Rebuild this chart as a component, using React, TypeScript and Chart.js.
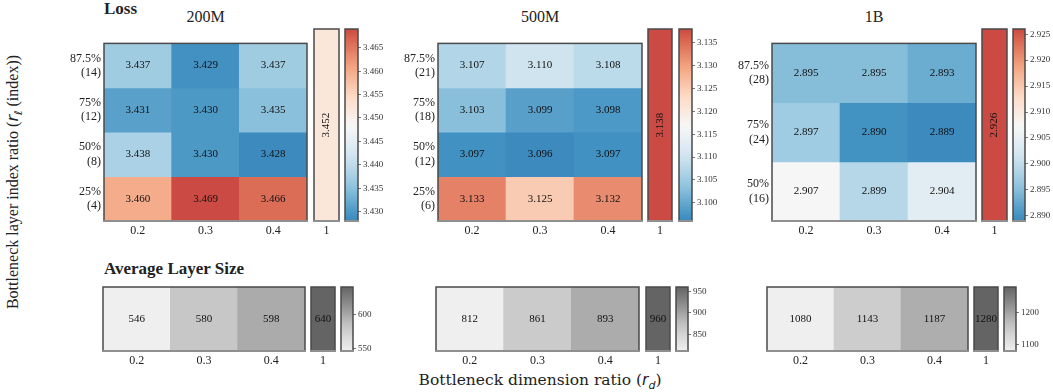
import React, { useEffect, useRef } from 'react';
import { Chart, registerables } from 'chart.js';

Chart.register(...registerables);

// ---------------- data ----------------
const rdLabels = ['0.2', '0.3', '0.4'];
const fullLabel = ['1'];

const rows200M = [['87.5%', '(14)'], ['75%', '(12)'], ['50%', '(8)'], ['25%', '(4)']];
const loss200M = [
  [3.437, 3.429, 3.437],
  [3.431, 3.430, 3.435],
  [3.438, 3.430, 3.428],
  [3.460, 3.469, 3.466],
];
const loss200MFull = 3.452;
const lossTicks200M = [3.430, 3.435, 3.440, 3.445, 3.450, 3.455, 3.460, 3.465];

const rows500M = [['87.5%', '(21)'], ['75%', '(18)'], ['50%', '(12)'], ['25%', '(6)']];
const loss500M = [
  [3.107, 3.110, 3.108],
  [3.103, 3.099, 3.098],
  [3.097, 3.096, 3.097],
  [3.133, 3.125, 3.132],
];
const loss500MFull = 3.138;
const lossTicks500M = [3.100, 3.105, 3.110, 3.115, 3.120, 3.125, 3.130, 3.135];

const rows1B = [['87.5%', '(28)'], ['75%', '(24)'], ['50%', '(16)']];
const loss1B = [
  [2.895, 2.895, 2.893],
  [2.897, 2.890, 2.889],
  [2.907, 2.899, 2.904],
];
const loss1BFull = 2.926;
const lossTicks1B = [2.890, 2.895, 2.900, 2.905, 2.910, 2.915, 2.920, 2.925];

const size200M = [546, 580, 598];
const size200MFull = 640;
const sizeTicks200M = [550, 600];

const size500M = [812, 861, 893];
const size500MFull = 960;
const sizeTicks500M = [850, 900, 950];

const size1B = [1080, 1143, 1187];
const size1BFull = 1280;
const sizeTicks1B = [1100, 1200];

const modelNames = ['200M', '500M', '1B'];

// ---------------- style helpers ----------------
const SERIF = "'Liberation Serif', 'Times New Roman', serif";
Chart.defaults.font.family = SERIF;
const RDBU_R = ['#053061', '#2166ac', '#4393c3', '#92c5de', '#d1e5f0', '#f7f7f7', '#fddbc7', '#f4a582', '#d6604d', '#b2182b', '#67001f'];
const GREYS = ['#ffffff', '#f0f0f0', '#d9d9d9', '#bdbdbd', '#969696', '#737373', '#525252', '#252525', '#000000'];

function hexToRgb(h: string) {
  const n = parseInt(h.slice(1), 16);
  return [(n >> 16) & 255, (n >> 8) & 255, n & 255];
}
function sampleStops(stops: string[], p: number) {
  const c = Math.min(1, Math.max(0, p)) * (stops.length - 1);
  const i = Math.min(stops.length - 2, Math.floor(c));
  const f = c - i;
  const a = hexToRgb(stops[i]);
  const b = hexToRgb(stops[i + 1]);
  return `rgb(${a.map((v, k) => Math.round(v + (b[k] - v) * f)).join(',')})`;
}
const lossCmap = (t: number) => sampleStops(RDBU_R, 0.18 + 0.65 * t);
const sizeCmap = (t: number) => sampleStops(GREYS, 0.13 + 0.55 * t);

type Margin = { l: number; r: number; t: number; b: number };
type Area = { x0: number; y0: number; x1: number; y1: number };

const framePlugin = {
  id: 'frame',
  afterDraw(chart: any) {
    const { ctx, chartArea: a } = chart;
    ctx.save();
    ctx.strokeStyle = '#4a4a4a';
    ctx.lineWidth = 1.5;
    ctx.strokeRect(a.left, a.top, a.right - a.left, a.bottom - a.top);
    ctx.strokeStyle = '#8f8f8f';
    ctx.lineWidth = 2;
    ctx.beginPath();
    ctx.moveTo(a.left - 0.75, a.bottom);
    ctx.lineTo(a.right + 0.75, a.bottom);
    ctx.stroke();
    ctx.restore();
  },
};

function valuePlugin(decimals: number, rotate?: boolean) {
  return {
    id: 'cellValues',
    afterDatasetsDraw(chart: any) {
      const ctx = chart.ctx;
      ctx.save();
      ctx.font = `11px ${SERIF}`;
      ctx.fillStyle = '#111';
      ctx.textAlign = 'center';
      ctx.textBaseline = 'middle';
      chart.data.datasets.forEach((ds: any, di: number) => {
        chart.getDatasetMeta(di).data.forEach((el: any, i: number) => {
          const { x, y, base } = el.getProps(['x', 'y', 'base'], true);
          const cy = (y + base) / 2;
          const txt = ds.cellValues[i].toFixed(decimals);
          if (rotate) {
            ctx.save();
            ctx.translate(x, cy);
            ctx.rotate(-Math.PI / 2);
            ctx.fillText(txt, 0, 0);
            ctx.restore();
          } else {
            ctx.fillText(txt, x, cy);
          }
        });
      });
      ctx.restore();
    },
  };
}

function makeHeatmap(p: {
  xLabels: string[];
  rows: number[][];
  rowLabels?: string[][];
  cmap: (t: number) => string;
  vmin: number;
  vmax: number;
  decimals: number;
  rotate?: boolean;
}) {
  return (m: Margin): any => {
    const n = p.rows.length;
    const color = (v: number) => p.cmap((v - p.vmin) / (p.vmax - p.vmin));
    return {
      type: 'bar',
      data: {
        labels: p.xLabels,
        datasets: p.rows.map((row, r) => ({
          data: row.map(() => [n - 1 - r, n - r]),
          cellValues: row,
          backgroundColor: row.map(color),
          borderWidth: 0,
          barPercentage: 1,
          categoryPercentage: 1,
          grouped: false,
        })),
      },
      options: {
        responsive: false,
        animation: false,
        events: [],
        layout: { padding: { left: p.rowLabels ? 0 : m.l, right: m.r, top: m.t, bottom: 0 } },
        plugins: { legend: { display: false }, tooltip: { enabled: false } },
        scales: {
          x: {
            type: 'category',
            offset: true,
            grid: { display: false, drawTicks: false },
            border: { display: false },
            ticks: { font: { family: SERIF, size: 12 }, color: '#222', padding: 3, maxRotation: 0, autoSkip: false },
            afterFit: (s: any) => { s.height = m.b; },
          },
          y: p.rowLabels
            ? {
                type: 'linear',
                min: 0,
                max: n,
                grid: { display: false, drawTicks: false },
                border: { display: false },
                afterBuildTicks: (ax: any) => {
                  ax.ticks = p.rowLabels!.map((_, r) => ({ value: n - 1 - r + 0.5 }));
                },
                ticks: {
                  autoSkip: false,
                  font: { family: SERIF, size: 12 },
                  color: '#222',
                  padding: 3,
                  callback: (v: number) => p.rowLabels![n - 1 - Math.floor(v)],
                },
                afterFit: (s: any) => { s.width = m.l; },
              }
            : { type: 'linear', display: false, min: 0, max: n },
        },
      },
      plugins: [valuePlugin(p.decimals, p.rotate), framePlugin],
    };
  };
}

function makeColorbar(p: { vmin: number; vmax: number; ticks: number[]; cmap: (t: number) => string; decimals: number }) {
  return (m: Margin): any => ({
    type: 'bar',
    data: {
      labels: [''],
      datasets: [
        {
          data: [[p.vmin, p.vmax]],
          backgroundColor: (c: any) => {
            const a = c.chart.chartArea;
            if (!a) return p.cmap(0.5);
            const g = c.chart.ctx.createLinearGradient(0, a.bottom, 0, a.top);
            for (let i = 0; i <= 40; i++) g.addColorStop(i / 40, p.cmap(i / 40));
            return g;
          },
          borderWidth: 0,
          barPercentage: 1,
          categoryPercentage: 1,
        },
      ],
    },
    options: {
      responsive: false,
      animation: false,
      events: [],
      layout: { padding: { left: m.l, right: 0, top: m.t, bottom: m.b } },
      plugins: { legend: { display: false }, tooltip: { enabled: false } },
      scales: {
        x: { display: false },
        y: {
          position: 'right',
          min: p.vmin,
          max: p.vmax,
          grid: { display: true, drawOnChartArea: false, drawTicks: true, tickLength: 3, color: '#555', lineWidth: 0.8 },
          border: { display: false },
          afterBuildTicks: (ax: any) => { ax.ticks = p.ticks.map((v) => ({ value: v })); },
          ticks: {
            autoSkip: false,
            font: { family: SERIF, size: 9 },
            color: '#333',
            padding: 2,
            callback: (v: number) => v.toFixed(p.decimals),
          },
          afterFit: (s: any) => { s.width = m.r; },
        },
      },
    },
    plugins: [framePlugin],
  });
}

function ChartCanvas({ area, margin, make }: { area: Area; margin: Margin; make: (m: Margin) => any }) {
  const ref = useRef<HTMLCanvasElement | null>(null);
  const w = area.x1 - area.x0 + margin.l + margin.r;
  const h = area.y1 - area.y0 + margin.t + margin.b;
  useEffect(() => {
    const chart = new Chart(ref.current as HTMLCanvasElement, make(margin));
    return () => chart.destroy();
  }, []);
  return (
    <canvas
      ref={ref}
      width={w}
      height={h}
      style={{ position: 'absolute', left: area.x0 - margin.l, top: area.y0 - margin.t, width: w, height: h }}
    />
  );
}

// ---------------- layout ----------------
const TOP = { y0: 29, y1: 221 };
const BOT = { y0: 287, y1: 351 };
const topLayout = [
  { main: [104, 307], extra: [314, 339], cbar: [345, 358], cbR: 40 },
  { main: [438, 642], extra: [648, 672], cbar: [679, 692], cbR: 40 },
  { main: [772, 976], extra: [982, 1007], cbar: [1013, 1025], cbR: 28 },
];
const botLayout = [
  { main: [103, 305], extra: [311, 335], cbar: [341, 353], cbR: 40 },
  { main: [436, 639], extra: [646, 670], cbar: [676, 688], cbR: 40 },
  { main: [767, 968], extra: [974, 998], cbar: [1004, 1016], cbR: 36 },
];

const lossSets = [
  { rows: loss200M, rowLabels: rows200M, full: loss200MFull, ticks: lossTicks200M },
  { rows: loss500M, rowLabels: rows500M, full: loss500MFull, ticks: lossTicks500M },
  { rows: loss1B, rowLabels: rows1B, full: loss1BFull, ticks: lossTicks1B },
];
const sizeSets = [
  { row: size200M, full: size200MFull, ticks: sizeTicks200M },
  { row: size500M, full: size500MFull, ticks: sizeTicks500M },
  { row: size1B, full: size1BFull, ticks: sizeTicks1B },
];

const mainM: Margin = { l: 60, r: 2, t: 3, b: 24 };
const plainM: Margin = { l: 2, r: 2, t: 3, b: 24 };

export default function App() {
  const items: any[] = [];
  lossSets.forEach((s, k) => {
    const L = topLayout[k];
    const all = s.rows.flat().concat([s.full]);
    const vmin = Math.min(...all);
    const vmax = Math.max(...all);
    items.push(
      <ChartCanvas key={`lm${k}`} area={{ x0: L.main[0], x1: L.main[1], ...TOP }} margin={mainM}
        make={makeHeatmap({ xLabels: rdLabels, rows: s.rows, rowLabels: s.rowLabels, cmap: lossCmap, vmin, vmax, decimals: 3 })} />,
      <ChartCanvas key={`le${k}`} area={{ x0: L.extra[0], x1: L.extra[1], ...TOP }} margin={plainM}
        make={makeHeatmap({ xLabels: fullLabel, rows: [[s.full]], cmap: lossCmap, vmin, vmax, decimals: 3, rotate: true })} />,
      <ChartCanvas key={`lc${k}`} area={{ x0: L.cbar[0], x1: L.cbar[1], ...TOP }} margin={{ l: 2, r: L.cbR, t: 8, b: 8 }}
        make={makeColorbar({ vmin, vmax, ticks: s.ticks, cmap: lossCmap, decimals: 3 })} />,
    );
  });
  sizeSets.forEach((s, k) => {
    const L = botLayout[k];
    const all = s.row.concat([s.full]);
    const vmin = Math.min(...all);
    const vmax = Math.max(...all);
    items.push(
      <ChartCanvas key={`sm${k}`} area={{ x0: L.main[0], x1: L.main[1], ...BOT }} margin={plainM}
        make={makeHeatmap({ xLabels: rdLabels, rows: [s.row], cmap: sizeCmap, vmin, vmax, decimals: 0 })} />,
      <ChartCanvas key={`se${k}`} area={{ x0: L.extra[0], x1: L.extra[1], ...BOT }} margin={plainM}
        make={makeHeatmap({ xLabels: fullLabel, rows: [[s.full]], cmap: sizeCmap, vmin, vmax, decimals: 0 })} />,
      <ChartCanvas key={`sc${k}`} area={{ x0: L.cbar[0], x1: L.cbar[1], ...BOT }} margin={{ l: 2, r: L.cbR, t: 8, b: 8 }}
        make={makeColorbar({ vmin, vmax, ticks: s.ticks, cmap: sizeCmap, decimals: 0 })} />,
    );
  });

  const txt = { position: 'absolute' as const, whiteSpace: 'nowrap' as const, color: '#222', fontFamily: SERIF };
  const mathR = { fontFamily: "'DejaVu Sans', sans-serif", fontStyle: 'italic' as const };
  const sub = { fontSize: 11, position: 'relative' as const, top: 4 };

  return (
    <div style={{ position: 'absolute', left: 0, top: 0, width: 1053, height: 392, overflow: 'hidden', background: '#fff' }}>
      <div style={{ ...txt, left: 104, top: 0, fontSize: 17, lineHeight: '17px', fontWeight: 700 }}>Loss</div>
      <div style={{ ...txt, left: 104, top: 260, fontSize: 17, lineHeight: '17px', fontWeight: 700 }}>Average Layer Size</div>
      {modelNames.map((name, k) => (
        <div key={name} style={{ ...txt, left: (topLayout[k].main[0] + topLayout[k].main[1]) / 2, top: 9, fontSize: 16, lineHeight: '16px', transform: 'translateX(-50%)' }}>
          {name}
        </div>
      ))}
      <div style={{ ...txt, left: 540, top: 381, fontSize: 15.5, lineHeight: '16px', fontFamily: "'DejaVu Serif', serif", transform: 'translate(-50%,-50%)' }}>
        Bottleneck dimension ratio (<span style={mathR}>r</span><span style={{ ...mathR, ...sub }}>d</span>)
      </div>
      <div style={{ ...txt, left: 14, top: 182, fontSize: 16, lineHeight: '16px', transform: 'translate(-50%,-50%) rotate(-90deg)' }}>
        Bottleneck layer index ratio (<span style={mathR}>r</span><span style={{ ...mathR, ...sub }}>ℓ</span> (index))
      </div>
      {items}
    </div>
  );
}
